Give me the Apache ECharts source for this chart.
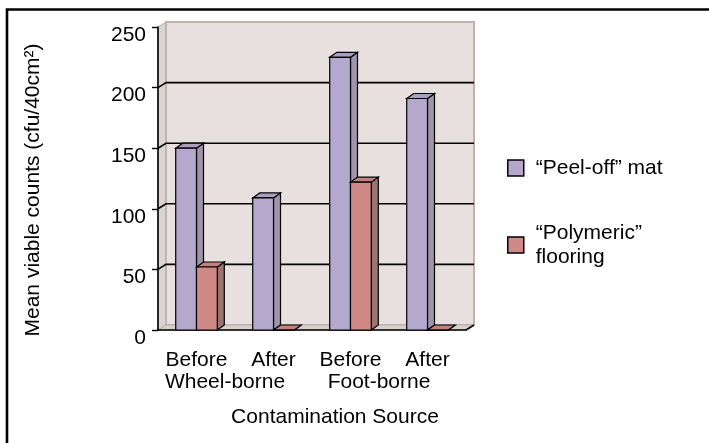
<!DOCTYPE html>
<html>
<head>
<meta charset="utf-8">
<script src="https://cdn.jsdelivr.net/npm/echarts@6/dist/echarts.min.js"></script>
<style>
  html, body { margin: 0; padding: 0; background: #fff; }
  #main { width: 709px; height: 443px; }
</style>
</head>
<body>
<div id="main"></div>
<script>
// data
var categories = ['Before', 'After', 'Before', 'After'];
var groups = ['Wheel-borne', 'Foot-borne'];
var peelOff = [150, 109, 225, 191];
var polymeric = [52, 0, 122, 0];
var yTicks = [0, 50, 100, 150, 200, 250];

var FONT = 'Liberation Sans, Arial, sans-serif';
var DX = 8, DY = -5;      // depth of the walls
var BDX = 7, BDY = -5;    // depth of the bars

function toData(arr) {
  return arr.map(function (v, i) { return [i, v]; });
}

// draws one 3d bar (front, side, top) through the axes
function bar3d(side, colors) {
  return function (params, api) {
    var c = api.value(0), v = api.value(1);
    var base = api.coord([c, 0]);
    var top = api.coord([c, v]);
    var band = api.size([1, 0])[0];
    var w = band * 0.27;
    var x0 = side < 0 ? base[0] - w : base[0];
    var x1 = x0 + w;
    var stroke = { stroke: '#000', lineWidth: 1.2 };
    return {
      type: 'group',
      children: [
        { type: 'polygon', shape: { points: [[x1, top[1]], [x1 + BDX, top[1] + BDY], [x1 + BDX, base[1] + BDY], [x1, base[1]]] },
          style: Object.assign({ fill: colors.side }, stroke) },
        { type: 'polygon', shape: { points: [[x0, top[1]], [x0 + BDX, top[1] + BDY], [x1 + BDX, top[1] + BDY], [x1, top[1]]] },
          style: Object.assign({ fill: colors.top }, stroke) },
        { type: 'rect', shape: { x: x0, y: top[1], width: w, height: base[1] - top[1] },
          style: Object.assign({ fill: colors.front }, stroke) }
      ]
    };
  };
}

// back wall, side wall, floor and gridlines
function walls(params, api) {
  var cs = params.coordSys;
  var gx = cs.x, gy = cs.y, gw = cs.width, gh = cs.height;
  var kids = [
    { type: 'polygon', shape: { points: [[gx, gy], [gx + DX, gy + DY], [gx + DX, gy + gh + DY], [gx, gy + gh]] },
      style: { fill: '#ddd4d1', stroke: '#b9b0ab', lineWidth: 1 } },
    { type: 'rect', shape: { x: gx + DX, y: gy + DY, width: gw, height: gh },
      style: { fill: '#e8e0de', stroke: '#bdb4b0', lineWidth: 2 } },
    { type: 'polygon', shape: { points: [[gx, gy + gh], [gx + DX, gy + gh + DY], [gx + gw + DX, gy + gh + DY], [gx + gw, gy + gh]] },
      style: { fill: '#d8cfcb', stroke: '#b9b0ab', lineWidth: 1 } },
    { type: 'line', shape: { x1: gx + gw, y1: gy + gh, x2: gx + gw + DX, y2: gy + gh + DY },
      style: { stroke: '#000', lineWidth: 1.5 } }
  ];
  yTicks.forEach(function (t) {
    if (t === 0 || t === yTicks[yTicks.length - 1]) return;
    var y = api.coord([0, t])[1];
    kids.push({ type: 'polyline', shape: { points: [[gx, y], [gx + DX, y + DY], [gx + gw + DX, y + DY]] },
      style: { stroke: '#000', lineWidth: 1.6, fill: null } });
  });
  return { type: 'group', children: kids };
}

var purple = { front: '#b4a9cc', side: '#a094a9', top: '#aa9ec3' };
var red = { front: '#cf8a87', side: '#9c7470', top: '#c4807d' };

var chart = echarts.init(document.getElementById('main'));
chart.setOption({
  animation: false,
  backgroundColor: '#fff',
  textStyle: { fontFamily: FONT },
  grid: { left: 158, top: 27, width: 308, height: 303 },
  xAxis: [
    {
      type: 'category',
      data: categories,
      z: 1.5,
      axisLine: { lineStyle: { color: '#000', width: 1.6 } },
      axisTick: { length: 5, lineStyle: { color: '#000', width: 1.4 } },
      axisLabel: { interval: 0, color: '#000', fontSize: 21, lineHeight: 24, margin: 18, fontFamily: FONT },
      name: 'Contamination Source',
      nameLocation: 'middle',
      nameGap: 75,
      nameTextStyle: { color: '#000', fontSize: 21, lineHeight: 24, padding: [0, 0, 0, 46], fontFamily: FONT }
    },
    {
      type: 'category',
      data: groups,
      position: 'bottom',
      axisLine: { show: false },
      axisTick: { show: false },
      axisLabel: { interval: 0, color: '#000', fontSize: 21, lineHeight: 24, margin: 40, padding: [0, 20, 0, 0], fontFamily: FONT }
    }
  ],
  yAxis: {
    type: 'value',
    min: 0,
    max: 250,
    interval: 50,
    z: 1.5,
    splitLine: { show: false },
    axisLine: { show: true, lineStyle: { color: '#000', width: 1.6 } },
    axisTick: { show: true, length: 6, lineStyle: { color: '#000', width: 1.4 } },
    axisLabel: { color: '#000', fontSize: 21, lineHeight: 16, verticalAlign: 'top', margin: 12, fontFamily: FONT },
    name: 'Mean viable counts (cfu/40cm²)',
    nameLocation: 'middle',
    nameRotate: 90,
    nameGap: 113,
    nameTextStyle: { color: '#000', fontSize: 21, lineHeight: 24, padding: [0, 23, 0, 0], fontFamily: FONT }
  },
  legend: [
    {
      left: 507, top: 152, padding: 0, orient: 'vertical',
      itemWidth: 16, itemHeight: 16,
      textStyle: { color: '#000', fontSize: 21, lineHeight: 24, padding: [8, 0, 0, 7], fontFamily: FONT },
      data: [{ name: '“Peel-off” mat', icon: 'rect', itemStyle: { color: purple.front, borderColor: '#000', borderWidth: 1.5 } }]
    },
    {
      left: 507, top: 206, padding: 0, orient: 'vertical',
      itemWidth: 16, itemHeight: 16,
      textStyle: { color: '#000', fontSize: 21, lineHeight: 24, padding: [30, 0, 0, 7], fontFamily: FONT },
      data: [{ name: '“Polymeric”\nflooring', icon: 'rect', itemStyle: { color: red.front, borderColor: '#000', borderWidth: 1.5 } }]
    }
  ],
  graphic: [
    { type: 'polyline', shape: { points: [[7, 443], [7, 9.5], [709, 9.5]] }, style: { stroke: '#000', lineWidth: 2.6, fill: null } }
  ],
  series: [
    { type: 'custom', name: 'walls', z: 1, silent: true, renderItem: walls, data: [[0, 0]], encode: { x: 0, y: 1 } },
    { type: 'custom', name: '“Peel-off” mat', z: 2, renderItem: bar3d(-1, purple), itemStyle: { color: purple.front },
      data: toData(peelOff), encode: { x: 0, y: 1 } },
    { type: 'custom', name: '“Polymeric”\nflooring', z: 3, renderItem: bar3d(1, red), itemStyle: { color: red.front },
      data: toData(polymeric), encode: { x: 0, y: 1 } }
  ]
});
</script>
</body>
</html>
